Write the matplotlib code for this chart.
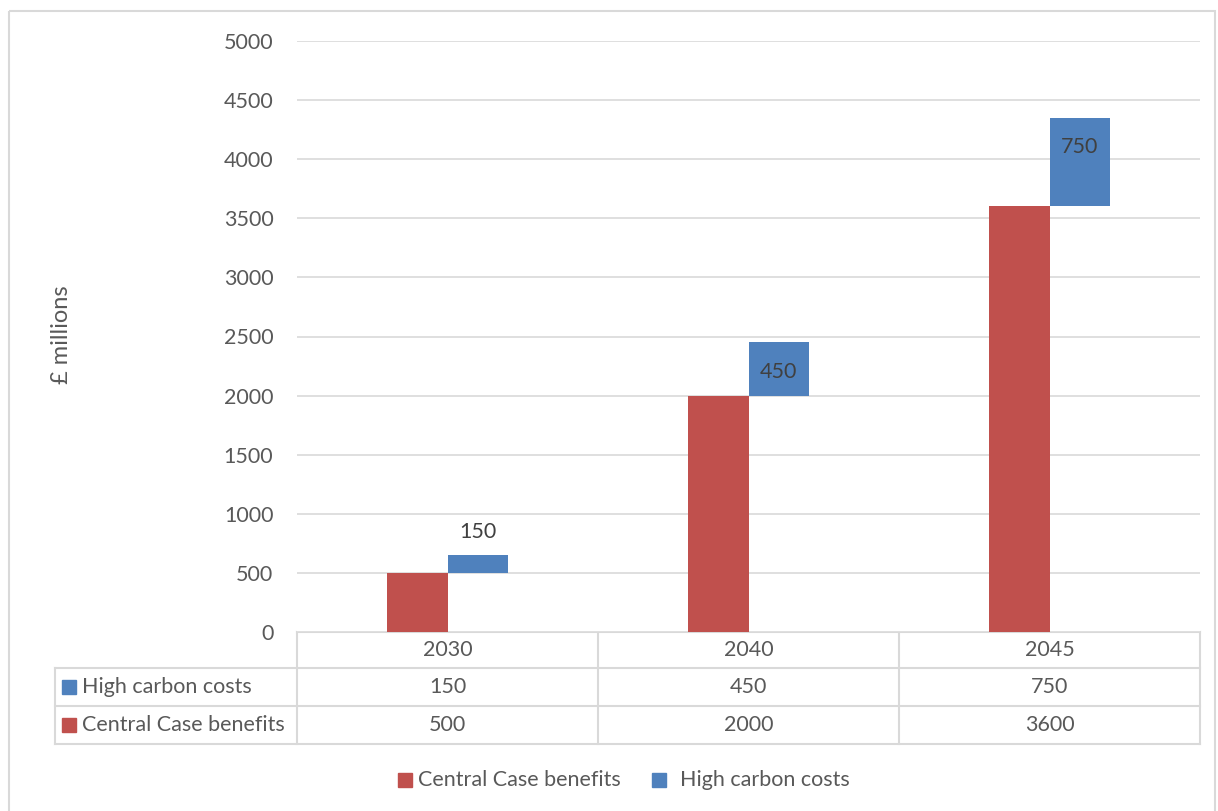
import matplotlib.pyplot as plt
from matplotlib.patches import Rectangle
from matplotlib.lines import Line2D

# Datos
years = ['2030', '2040', '2045']
central_benefits = [500, 2000, 3600]
high_carbon = [150, 450, 750]
series_names = ['Central Case benefits', 'High carbon costs']
y_ticks = [0, 500, 1000, 1500, 2000, 2500, 3000, 3500, 4000, 4500, 5000]

RED = '#C0504D'
BLUE = '#4F81BD'
GRID = '#D9D9D9'
TXT = '#595959'
FS = 15.5

plt.rcParams['font.family'] = ['Lato', 'DejaVu Sans']

W, H = 1218, 811
fig = plt.figure(figsize=(W / 100, H / 100), dpi=100)

# capa de fondo en pixeles (borde, tabla, leyenda)
bg = fig.add_axes([0, 0, 1, 1])
bg.set_xlim(0, W)
bg.set_ylim(H, 0)
bg.axis('off')
bg.add_patch(Rectangle((9, 11), 1206, 810, fill=False, edgecolor=GRID, lw=1.5))

# area del grafico
left, right, top, bottom = 297, 1200, 41, 632
ax = fig.add_axes([left / W, (H - bottom) / H, (right - left) / W, (bottom - top) / H])
x = list(range(len(years)))
bw = 0.2
ax.bar([i - bw / 2 for i in x], central_benefits, width=bw, color=RED, zorder=3)
bars = ax.bar([i + bw / 2 for i in x], high_carbon, bottom=central_benefits,
              width=bw, color=BLUE, zorder=3)
ax.set_xlim(-0.5, len(years) - 0.5)
ax.set_ylim(0, 5000)
ax.set_yticks(y_ticks)
ax.set_yticklabels([str(t) for t in y_ticks], fontsize=FS, color=TXT)
ax.tick_params(axis='y', length=0, pad=17)
ax.set_xticks([])
ax.grid(axis='y', color=GRID, lw=1.2, zorder=0)
for s in ax.spines.values():
    s.set_visible(False)

# etiquetas de datos
for b, v in zip(bars, high_carbon):
    ytop = b.get_y() + b.get_height()
    xc = b.get_x() + b.get_width() / 2
    if v < 300:
        ax.annotate(str(v), (xc, ytop), xytext=(0, 17), textcoords='offset points',
                    ha='center', va='center', fontsize=FS, color='#404040')
    else:
        ax.annotate(str(v), (xc, ytop), xytext=(0, -21), textcoords='offset points',
                    ha='center', va='center', fontsize=FS, color='#404040')

fig.text(62 / W, 1 - 335 / H, '£ millions', rotation=90, ha='center', va='center',
         fontsize=17, color=TXT)

# tabla de datos
col_w = (right - left) / len(years)
rows_y = [632, 668, 706, 744]
lc = dict(color=GRID, lw=1.5)
bg.add_line(Line2D([left, right], [rows_y[0]] * 2, **lc))
for yy in rows_y[1:]:
    bg.add_line(Line2D([55, right], [yy] * 2, **lc))
for i in range(len(years) + 1):
    xx = left + i * col_w
    bg.add_line(Line2D([xx, xx], [rows_y[0], rows_y[-1]], **lc))
bg.add_line(Line2D([55, 55], [rows_y[1], rows_y[-1]], **lc))

table_rows = [(series_names[1], BLUE, high_carbon), (series_names[0], RED, central_benefits)]
for i, yr in enumerate(years):
    bg.text(left + (i + 0.5) * col_w, (rows_y[0] + rows_y[1]) / 2, yr,
            ha='center', va='center', fontsize=FS, color=TXT)
for r, (name, col, vals) in enumerate(table_rows):
    yc = (rows_y[r + 1] + rows_y[r + 2]) / 2
    bg.add_patch(Rectangle((62, yc - 7), 14, 14, color=col))
    bg.text(82, yc, name, ha='left', va='center', fontsize=FS, color=TXT)
    for i, v in enumerate(vals):
        bg.text(left + (i + 0.5) * col_w, yc, str(v), ha='center', va='center',
                fontsize=FS, color=TXT)

# leyenda
bg.add_patch(Rectangle((398, 773), 14, 14, color=RED))
bg.text(418, 780, series_names[0], ha='left', va='center', fontsize=FS, color=TXT)
bg.add_patch(Rectangle((652, 773), 14, 14, color=BLUE))
bg.text(680, 780, series_names[1], ha='left', va='center', fontsize=FS, color=TXT)

fig.savefig('out.png', dpi=100)
